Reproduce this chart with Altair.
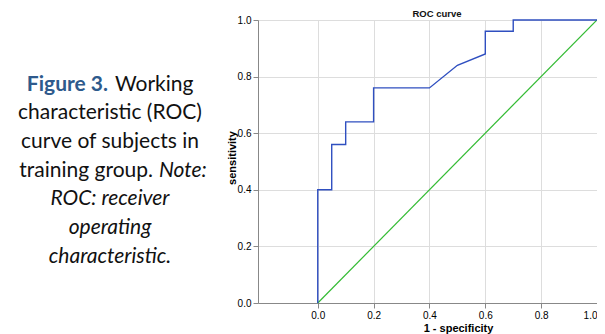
import altair as alt
import pandas as pd

# ROC curve points (1 - specificity, sensitivity)
fpr = [0.0, 0.0, 0.05, 0.05, 0.10, 0.10, 0.20, 0.20, 0.40, 0.50, 0.60, 0.60, 0.70, 0.70, 1.0]
tpr = [0.0, 0.40, 0.40, 0.56, 0.56, 0.64, 0.64, 0.76, 0.76, 0.84, 0.88, 0.96, 0.96, 1.0, 1.0]
ref_x = [0.0, 1.0]
ref_y = [0.0, 1.0]
ticks = [0.0, 0.2, 0.4, 0.6, 0.8, 1.0]

roc = pd.DataFrame({"fpr": fpr, "tpr": tpr, "step": list(range(len(fpr)))})
ref = pd.DataFrame({"fpr": ref_x, "tpr": ref_y})

W, H = 339, 283
xs = alt.Scale(domain=[-0.214, 1.0], nice=False, zero=False)
ys = alt.Scale(domain=[0, 1], nice=False)

x_axis = alt.Axis(values=ticks, format=".1f", title="1 - specificity",
                  titleX=200, titleY=28, titleBaseline="alphabetic", titleAlign="center")
y_axis = alt.Axis(values=ticks, format=".1f", title="sensitivity",
                  titleX=-26, titleY=H / 2 - 4, titleAngle=-90, titleAlign="center",
                  titleBaseline="middle")

curve = alt.Chart(roc).mark_line(color="#2f4fc0", strokeWidth=1.4, interpolate="linear").encode(
    x=alt.X("fpr:Q", scale=xs, axis=x_axis),
    y=alt.Y("tpr:Q", scale=ys, axis=y_axis),
    order="step:O",
)
diag = alt.Chart(ref).mark_line(color="#33bb33", strokeWidth=1.2).encode(
    x=alt.X("fpr:Q", scale=xs),
    y=alt.Y("tpr:Q", scale=ys),
)

title_txt = alt.Chart(pd.DataFrame({"t": ["ROC curve"]})).mark_text(
    font="Liberation Sans", fontSize=9.5, fontWeight="bold", color="#111",
    align="center", baseline="middle"
).encode(x=alt.value(179), y=alt.value(-6.5), text="t:N")

# caption text
cap_font = "Lato"
cap_size = 21
line_y = [-20 + v for v in [90.7, 119.3, 148.0, 176.7, 205.3, 234.0, 262.7]]
cx = 110 - 258

fig_lbl = alt.Chart(pd.DataFrame({"t": ["Figure 3."]})).mark_text(
    font=cap_font, fontSize=cap_size, fontWeight="bold", color="#2e5a8c",
    align="right", baseline="alphabetic"
).encode(x=alt.value(108 - 258), y=alt.value(line_y[0]), text="t:N")
working = alt.Chart(pd.DataFrame({"t": ["Working"]})).mark_text(
    font=cap_font, fontSize=cap_size, color="#111", align="left", baseline="alphabetic"
).encode(x=alt.value(115 - 258), y=alt.value(line_y[0]), text="t:N")
mid_lines = []
for i, s in [(1, "characteristic (ROC)"), (2, "curve of subjects in")]:
    mid_lines.append(alt.Chart(pd.DataFrame({"t": [s]})).mark_text(
        font=cap_font, fontSize=cap_size, color="#111", align="center", baseline="alphabetic"
    ).encode(x=alt.value(cx), y=alt.value(line_y[i]), text="t:N"))
training = alt.Chart(pd.DataFrame({"t": ["training group."]})).mark_text(
    font=cap_font, fontSize=cap_size, color="#111", align="right", baseline="alphabetic"
).encode(x=alt.value(153 - 258), y=alt.value(line_y[3]), text="t:N")
note = alt.Chart(pd.DataFrame({"t": ["Note:"]})).mark_text(
    font=cap_font, fontSize=cap_size, fontStyle="italic", color="#111", align="left",
    baseline="alphabetic"
).encode(x=alt.value(159 - 258), y=alt.value(line_y[3]), text="t:N")
it_lines = []
for i, s in [(4, "ROC: receiver"), (5, "operating"), (6, "characteristic.")]:
    it_lines.append(alt.Chart(pd.DataFrame({"t": [s]})).mark_text(
        font=cap_font, fontSize=cap_size, fontStyle="italic", color="#111", align="center",
        baseline="alphabetic"
    ).encode(x=alt.value(cx), y=alt.value(line_y[i]), text="t:N"))

chart = alt.layer(diag, curve, title_txt, fig_lbl, working, *mid_lines, training, note, *it_lines).properties(
    width=W, height=H,
    autosize=alt.AutoSizeParams(type="none"),
    padding={"left": 250, "top": 12, "right": 0, "bottom": 31},
).configure_view(stroke=None).configure_axis(
    grid=False, domainColor="#8a8a8a", domainWidth=1.2, tickColor="#333", tickSize=4,
    labelFont="Liberation Sans", labelFontSize=9, labelColor="#222", labelPadding=1,
    titleFont="Liberation Sans", titleFontSize=11, titleFontWeight="bold", titleColor="#111",
).configure(background="white")

chart.save("out.html", embed_options={"renderer": "svg", "actions": False})
